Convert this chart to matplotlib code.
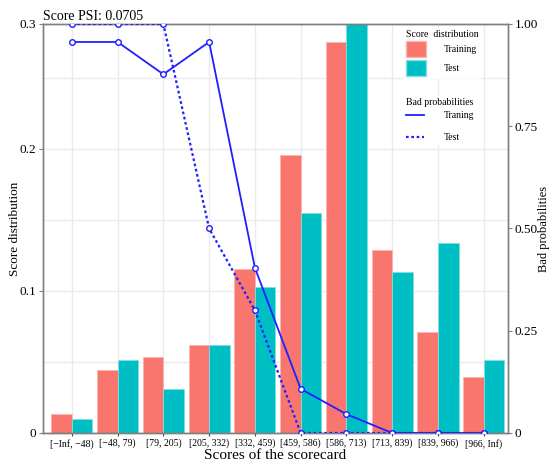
import numpy as np
import matplotlib
matplotlib.use("Agg")
import matplotlib.pyplot as plt
from matplotlib.patches import Patch
from matplotlib.lines import Line2D

plt.rcParams["font.family"] = ["Liberation Serif", "DejaVu Serif"]

# score bins of the scorecard
bins = ["[\u2212Inf, \u221248)", "[\u221248, 79)", "[79, 205)", "[205, 332)", "[332, 459)",
        "[459, 586)", "[586, 713)", "[713, 839)", "[839, 966)", "[966, Inf)"]

# share of samples falling in each bin
dist_train = [0.0132, 0.0444, 0.0533, 0.0618, 0.1153, 0.1955, 0.2756, 0.1289, 0.0709, 0.0397]
dist_test = [0.0101, 0.0512, 0.0308, 0.0618, 0.1028, 0.1547, 0.2900, 0.1132, 0.1336, 0.0512]

# bad rate in each bin
bad_train = [0.956, 0.956, 0.877, 0.956, 0.404, 0.108, 0.046, 0.0, 0.0, 0.0]
bad_test = [1.0, 1.0, 1.0, 0.5, 0.3, 0.0, 0.0, 0.0, 0.0, 0.0]

psi = 0.0705

c_train = "#F8766D"
c_test = "#00BFC4"
c_line = "#1f1fff"
c_spine = "#7f7f7f"

fig = plt.figure(figsize=(5.51, 4.63), dpi=100)
ax = fig.add_axes([0.078, 0.0648, 0.844, 0.8834])
x = np.arange(len(bins))
w = 0.45

ax.bar(x - w / 2, dist_train, w, color=c_train, edgecolor="#fbb5b0", linewidth=0.6, zorder=2)
ax.bar(x + w / 2, dist_test, w, color=c_test, edgecolor="#7fe0e2", linewidth=0.6, zorder=2)

ymax = 0.288
ax.set_ylim(0, ymax)
ax.set_xlim(-0.63, 9.53)
ax.set_yticks([0, 0.1, 0.2, ymax])
ax.set_yticklabels(["0", "0.1", "0.2", "0.3"])
ax.set_yticks(np.arange(0.05, 0.28, 0.05), minor=True)
ax.set_xticks(x)
ax.set_xticklabels(bins, fontsize=7)
ax.tick_params(axis="y", labelsize=9.5, length=3, color=c_spine, pad=2)
ax.tick_params(axis="y", which="minor", length=0)
ax.tick_params(axis="x", length=2, color="#444444", pad=2)
ax.grid(True, which="both", color="#ebebeb", linewidth=1.0, zorder=0)
ax.set_axisbelow(True)
ax.set_ylabel("Score distribution", fontsize=9.5)
ax.yaxis.set_label_coords(-0.048, 0.5)
ax.set_xlabel("Scores of the scorecard", fontsize=11, labelpad=0)
ax.set_title("Score PSI: %.4f" % psi, loc="left", fontsize=10, pad=3)
for s in ax.spines.values():
    s.set_color(c_spine)
    s.set_linewidth(1.0)

ax2 = ax.twinx()
ax2.plot(x, bad_train, color=c_line, linewidth=1.3, marker="o", markersize=4,
         markerfacecolor="white", markeredgecolor=c_line, markeredgewidth=1.0, zorder=3)
ax2.plot(x, bad_test, color=c_line, linewidth=1.6, linestyle=(0, (1.2, 1.2)), marker="o",
         markersize=4, markerfacecolor="white", markeredgecolor=c_line,
         markeredgewidth=1.0, zorder=3)
ax2.set_ylim(0, 1)
ax2.set_yticks([0, 0.25, 0.5, 0.75, 1.0])
ax2.set_yticklabels(["0", "0.25", "0.50", "0.75", "1.00"])
ax2.tick_params(axis="y", labelsize=9.5, length=3, color=c_spine, pad=2)
ax2.set_ylabel("Bad probabilities", fontsize=9)
ax2.yaxis.set_label_coords(1.0655, 0.5)
for s in ax2.spines.values():
    s.set_color(c_spine)
    s.set_linewidth(1.0)

h1 = [Patch(facecolor=c_train, edgecolor="#fbb5b0"), Patch(facecolor=c_test, edgecolor="#7fe0e2")]
leg1 = ax2.legend(h1, ["Training", "Test"], title="Score  distribution", loc="upper left",
                  bbox_to_anchor=(0.765, 1.003), frameon=True, framealpha=1, edgecolor="white",
                  fontsize=7, title_fontsize=7, handlelength=2.0, handleheight=2.2,
                  handletextpad=1.9, labelspacing=0.25, borderpad=0.2, fancybox=False)
ax2.add_artist(leg1)
h2 = [Line2D([], [], color=c_line, linewidth=1.3),
      Line2D([], [], color=c_line, linewidth=1.6, linestyle=(0, (1.2, 1.2)))]
ax2.legend(h2, ["Traning", "Test"], title="Bad probabilities", loc="upper left",
           bbox_to_anchor=(0.765, 0.835), frameon=True, framealpha=1, edgecolor="white",
           fontsize=7, title_fontsize=7, handlelength=1.9, handletextpad=2.0,
           labelspacing=1.3, borderpad=0.2, fancybox=False)
ax2.get_legend()._legend_box.sep = 3

fig.savefig("out.png", dpi=100)
